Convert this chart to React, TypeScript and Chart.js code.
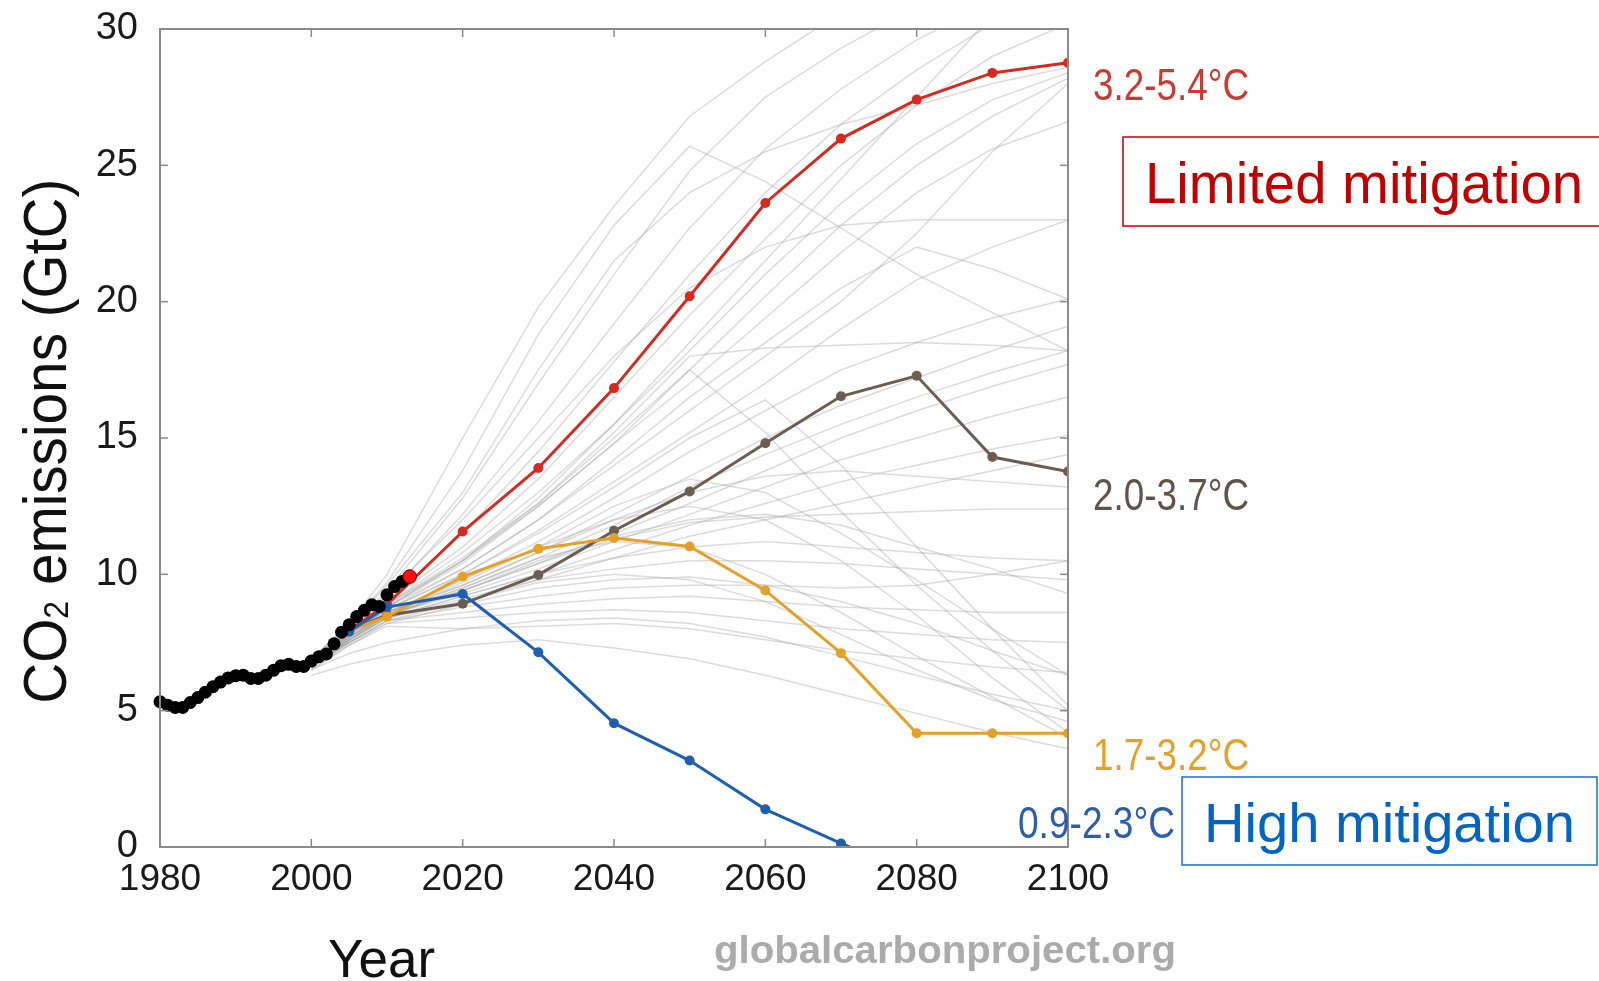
import { useEffect, useRef } from "react";
import { Chart, registerables } from "chart.js";

Chart.register(...registerables);

// ---------- DATA ----------
const histYears = [
  1980, 1981, 1982, 1983, 1984, 1985, 1986, 1987, 1988, 1989, 1990, 1991, 1992, 1993, 1994, 1995, 1996,
  1997, 1998, 1999, 2000, 2001, 2002, 2003, 2004, 2005, 2006, 2007, 2008, 2009, 2010, 2011, 2012,
];
const histValues = [
  5.33, 5.2, 5.12, 5.12, 5.3, 5.48, 5.68, 5.88, 6.05, 6.2, 6.28, 6.3, 6.18, 6.18, 6.3, 6.48, 6.65,
  6.7, 6.62, 6.62, 6.82, 6.98, 7.08, 7.45, 7.88, 8.15, 8.45, 8.68, 8.88, 8.82, 9.25, 9.55, 9.74,
];
const projYear = [2013];
const projValue = [9.92];

const rcpYears = [2005, 2010, 2020, 2030, 2040, 2050, 2060, 2070, 2080, 2090, 2100];
const rcp85 = [7.95, 8.9, 11.57, 13.9, 16.83, 20.2, 23.62, 25.98, 27.41, 28.39, 28.76];
const rcp60 = [7.95, 8.5, 8.92, 9.98, 11.6, 13.04, 14.81, 16.53, 17.28, 14.3, 13.77];
const rcp45 = [7.95, 8.45, 9.92, 10.94, 11.33, 11.02, 9.41, 7.11, 4.17, 4.17, 4.17];
const rcp26 = [7.9, 8.8, 9.28, 7.14, 4.54, 3.17, 1.38, 0.13, -1.0, -1.3, -1.5];

const otherYears = [2000, 2005, 2010, 2020, 2030, 2040, 2050, 2060, 2070, 2080, 2090, 2100];
const otherScenarios: number[][] = [
  [6.9, 8.2, 10.0, 15.0, 19.8, 23.5, 26.8, 28.8, 30.6, 32.0, 33.0, 34.0],
  [6.9, 8.1, 9.7, 13.8, 18.8, 22.8, 25.7, 24.4, 22.7, 21.0, 19.6, 18.2],
  [6.8, 8.0, 9.4, 12.8, 17.0, 21.0, 24.8, 27.5, 29.3, 30.8, 32.0, 33.0],
  [6.8, 8.0, 9.2, 12.2, 15.6, 19.2, 22.7, 25.6, 27.8, 29.6, 31.0, 32.0],
  [6.8, 7.9, 9.0, 11.5, 14.5, 17.8, 21.0, 24.0, 26.5, 28.5, 30.2, 31.5],
  [6.8, 7.9, 9.0, 11.0, 13.5, 16.5, 19.5, 22.3, 25.0, 27.2, 29.0, 30.2],
  [6.7, 7.9, 8.9, 10.8, 13.0, 15.5, 18.2, 21.0, 23.6, 25.8, 27.4, 28.4],
  [6.7, 7.8, 8.8, 10.4, 12.5, 14.8, 17.0, 19.4, 21.8, 24.0, 25.6, 26.6],
  [6.7, 7.8, 8.8, 10.2, 12.0, 14.0, 16.0, 18.0, 20.0, 22.5, 25.5, 28.0],
  [6.7, 7.8, 8.7, 10.0, 11.6, 13.4, 15.2, 17.0, 19.0, 20.8, 22.0, 23.0],
  [6.8, 7.9, 8.9, 10.5, 12.8, 15.5, 18.5, 21.5, 24.5, 27.5, 30.5, 32.5],
  [6.7, 7.8, 8.6, 9.8, 11.2, 12.8, 14.5, 16.0, 17.5, 18.5, 19.4, 20.1],
  [6.7, 7.7, 8.6, 9.6, 10.8, 12.2, 13.6, 15.0, 16.2, 17.2, 18.2, 19.1],
  [6.7, 7.7, 8.5, 9.5, 10.6, 11.8, 13.2, 14.4, 15.5, 16.5, 17.4, 18.2],
  [6.6, 7.7, 8.5, 9.4, 10.4, 11.5, 12.6, 13.8, 15.0, 16.0, 16.9, 17.7],
  [6.6, 7.6, 8.5, 9.3, 10.2, 11.2, 12.2, 13.2, 14.2, 15.0, 15.8, 16.5],
  [6.6, 7.6, 8.4, 9.2, 10.0, 10.9, 11.8, 12.6, 13.4, 14.0, 14.6, 15.1],
  [6.6, 7.6, 8.4, 9.0, 9.8, 10.6, 11.4, 12.0, 12.6, 13.2, 13.8, 14.4],
  [6.8, 7.9, 8.8, 10.5, 12.5, 14.8, 17.5, 15.2, 12.3, 9.6, 7.2, 5.0],
  [6.7, 7.8, 8.7, 10.0, 11.5, 13.2, 15.0, 16.4, 14.0, 11.0, 8.0, 5.2],
  [6.7, 7.7, 8.6, 9.7, 11.0, 12.5, 13.5, 13.0, 11.5, 9.8, 8.0, 6.3],
  [6.6, 7.7, 8.5, 9.4, 10.5, 11.4, 12.0, 12.2, 11.8, 11.0, 10.2, 9.3],
  [6.6, 7.6, 8.4, 9.1, 9.8, 10.2, 10.5, 10.5, 10.4, 10.2, 10.0, 9.8],
  [6.6, 7.5, 8.3, 8.8, 9.2, 9.5, 9.6, 9.6, 9.5, 9.6, 10.0, 10.5],
  [6.6, 7.5, 8.3, 8.6, 8.9, 9.1, 9.2, 9.0, 8.8, 8.7, 8.6, 8.6],
  [6.5, 7.4, 8.2, 8.4, 8.6, 8.7, 8.6, 8.3, 8.0, 7.8, 7.6, 7.5],
  [6.5, 7.4, 8.1, 8.0, 8.1, 8.2, 8.0, 7.6, 7.2, 6.9, 6.6, 6.4],
  [6.3, 6.7, 7.0, 7.4, 7.6, 7.3, 6.9, 6.3, 5.6, 4.9, 4.2, 3.6],
  [6.5, 7.1, 7.5, 8.0, 8.3, 8.4, 8.2, 7.7, 7.0, 6.3, 5.6, 5.0],
  [6.6, 7.5, 8.2, 8.9, 9.5, 9.8, 9.9, 9.6, 9.0, 8.2, 7.2, 6.3],
  [6.7, 7.7, 8.6, 9.8, 11.0, 12.0, 12.5, 12.0, 10.5, 8.5, 6.2, 4.2],
  [6.6, 7.6, 8.5, 9.5, 10.6, 11.2, 11.0, 10.0, 8.6, 7.0, 5.5, 4.0],
  [6.6, 7.5, 8.3, 9.0, 9.7, 10.0, 9.8, 9.0, 7.8, 6.5, 5.4, 4.6],
  [6.7, 7.7, 8.6, 9.6, 10.8, 12.0, 13.0, 13.6, 13.8, 13.6, 13.4, 13.2],
  [6.6, 7.6, 8.5, 9.4, 10.4, 11.3, 11.9, 12.1, 12.2, 12.3, 12.4, 12.4],
  [6.6, 7.6, 8.4, 9.2, 10.0, 10.6, 11.0, 11.2, 11.0, 10.8, 10.6, 10.5],
  [6.8, 7.9, 8.9, 10.6, 12.6, 15.0, 17.5, 20.2, 22.8, 25.0, 26.8, 28.2],
  [6.8, 7.9, 8.8, 10.5, 12.6, 15.2, 18.0, 18.3, 18.4, 18.5, 18.4, 18.2],
  [6.9, 8.1, 9.6, 13.0, 17.5, 21.5, 24.0, 25.5, 26.5, 27.2, 28.0, 28.6],
  [6.9, 8.0, 9.3, 12.0, 15.0, 18.0, 20.5, 22.0, 22.8, 23.0, 23.0, 23.0],
  [6.7, 7.8, 8.7, 10.2, 12.0, 14.2, 16.5, 18.5, 20.5, 22.0, 21.2, 20.1],
];

const xTickMin = 1980;
const xTickMax = 2100;
const xTickStep = 20;
const yTickMin = 0;
const yTickMax = 30;
const yTickStep = 5;

const rangeLabels = ["3.2-5.4°C", "2.0-3.7°C", "1.7-3.2°C", "0.9-2.3°C"];
const boxLabels = ["Limited mitigation", "High mitigation"];
const yTitle = ["CO", "2", " emissions (GtC)"];
const xTitle = "Year";
const sourceText = "globalcarbonproject.org";

// ---------- STYLE ----------
const FONT = "'Liberation Sans', Arial, Helvetica, sans-serif";
const C_RED = "#d42a20";
const C_BROWN = "#6b5d54";
const C_ORANGE = "#e3a12c";
const C_BLUE = "#1f5fae";

const pts = (xs: number[], ys: number[]) => xs.map((x, i) => ({ x, y: ys[i] }));

function fitText(
  ctx: CanvasRenderingContext2D,
  text: string,
  x: number,
  y: number,
  font: string,
  width: number,
  color: string
) {
  ctx.save();
  ctx.font = font;
  const w = ctx.measureText(text).width;
  ctx.translate(x, y);
  ctx.scale(width / w, 1);
  ctx.fillStyle = color;
  ctx.textAlign = "left";
  ctx.textBaseline = "alphabetic";
  ctx.fillText(text, 0, 0);
  ctx.restore();
}

const framePlugin = {
  id: "frame",
  afterDatasetsDraw(chart: any) {
    const { ctx, chartArea: a, scales } = chart;
    ctx.save();
    ctx.strokeStyle = "#8a8a8a";
    ctx.lineWidth = 1.5;
    const tl = 8;
    const line = (x1: number, y1: number, x2: number, y2: number) => {
      ctx.beginPath();
      ctx.moveTo(x1, y1);
      ctx.lineTo(x2, y2);
      ctx.stroke();
    };
    scales.x.ticks.forEach((t: any) => {
      const px = scales.x.getPixelForValue(t.value);
      line(px, a.bottom, px, a.bottom - tl);
      line(px, a.top, px, a.top + tl);
    });
    scales.y.ticks.forEach((t: any) => {
      const py = scales.y.getPixelForValue(t.value);
      line(a.left, py, a.left + tl, py);
      line(a.right, py, a.right - tl, py);
    });
    ctx.lineWidth = 2;
    ctx.strokeRect(a.left, a.top, a.right - a.left, a.bottom - a.top);
    ctx.restore();
  },
  afterDraw(chart: any) {
    const ctx: CanvasRenderingContext2D = chart.ctx;
    // range labels
    fitText(ctx, rangeLabels[0], 1093, 100, `44px ${FONT}`, 156, "#c83a32");
    fitText(ctx, rangeLabels[1], 1093, 510, `44px ${FONT}`, 156, "#5f534b");
    fitText(ctx, rangeLabels[2], 1093, 770, `44px ${FONT}`, 156, "#e3a02b");
    fitText(ctx, rangeLabels[3], 1018, 838, `44px ${FONT}`, 157, "#2a5ea8");

    // boxes
    ctx.save();
    ctx.lineWidth = 1.5;
    ctx.strokeStyle = "#c00000";
    ctx.strokeRect(1123, 137, 500, 89);
    ctx.strokeStyle = "#1a6fd1";
    ctx.strokeRect(1182, 777, 415, 88);
    ctx.restore();
    fitText(ctx, boxLabels[0], 1145, 203, `57px ${FONT}`, 438, "#c00000");
    fitText(ctx, boxLabels[1], 1204, 842, `56px ${FONT}`, 371, "#0563c1");

    // x title
    ctx.save();
    ctx.font = `53px ${FONT}`;
    ctx.fillStyle = "#111";
    ctx.textBaseline = "alphabetic";
    ctx.textAlign = "left";
    ctx.fillText(xTitle, 328, 977);
    ctx.restore();

    // y title (rotated) with subscript
    ctx.save();
    const mainFont = `62px ${FONT}`;
    const subFont = `35px ${FONT}`;
    ctx.font = mainFont;
    const w1 = ctx.measureText(yTitle[0]).width;
    const w3 = ctx.measureText(yTitle[2]).width;
    ctx.font = subFont;
    const w2 = ctx.measureText(yTitle[1]).width;
    const total = w1 + w2 + w3;
    const target = 525;
    const s = target / total;
    ctx.translate(66, 703.7);
    ctx.rotate(-Math.PI / 2);
    ctx.scale(s, 1);
    ctx.fillStyle = "#111";
    ctx.textBaseline = "alphabetic";
    ctx.textAlign = "left";
    ctx.font = mainFont;
    ctx.fillText(yTitle[0], 0, 0);
    ctx.font = subFont;
    ctx.fillText(yTitle[1], w1, 2);
    ctx.font = mainFont;
    ctx.fillText(yTitle[2], w1 + w2, 0);
    ctx.restore();

    // source
    fitText(ctx, sourceText, 714, 963, `bold 39px ${FONT}`, 462, "#ababab");
  },
};

export default function App() {
  const ref = useRef<HTMLCanvasElement>(null);

  useEffect(() => {
    if (!ref.current) return;
    Chart.defaults.font.family = FONT;

    const grayDatasets = otherScenarios.map((vals) => ({
      type: "line" as const,
      data: pts(otherYears, vals),
      borderColor: "rgba(170,170,170,0.42)",
      borderWidth: 1.5,
      pointRadius: 0,
      order: 10,
    }));

    const colored = (vals: number[], color: string, order: number) => ({
      type: "line" as const,
      data: pts(rcpYears, vals),
      borderColor: color,
      backgroundColor: color,
      borderWidth: 3,
      pointRadius: 5,
      pointBorderWidth: 0,
      pointBackgroundColor: color,
      order,
    });

    const chart = new Chart(ref.current, {
      type: "line",
      data: {
        datasets: [
          {
            type: "line",
            data: pts(projYear, projValue),
            showLine: false,
            pointRadius: 6.8,
            pointBackgroundColor: "#ff1010",
            pointBorderColor: "#5a0000",
            pointBorderWidth: 1,
            order: 1,
            clip: false,
          },
          {
            type: "line",
            data: pts(histYears, histValues),
            showLine: false,
            pointRadius: 6.5,
            pointBackgroundColor: "#000",
            pointBorderWidth: 0,
            order: 2,
            clip: false,
          },
          colored(rcp26, C_BLUE, 3),
          colored(rcp45, C_ORANGE, 4),
          colored(rcp60, C_BROWN, 5),
          colored(rcp85, C_RED, 6),
          ...grayDatasets,
        ] as any,
      },
      options: {
        animation: false,
        responsive: false,
        devicePixelRatio: 1,
        layout: { padding: { left: 0, right: 531, top: 29, bottom: 0 } },
        plugins: {
          legend: { display: false },
          tooltip: { enabled: false },
        },
        elements: { line: { tension: 0 } },
        scales: {
          x: {
            type: "linear",
            min: xTickMin,
            max: xTickMax,
            grid: { display: false, drawTicks: false },
            border: { display: false },
            ticks: {
              stepSize: xTickStep,
              padding: 11,
              color: "#1a1a1a",
              font: { size: 37, family: FONT },
              maxRotation: 0,
              callback: (v: any) => String(v),
            },
            afterFit: (scale: any) => {
              scale.height = 134;
              scale.paddingLeft = 0;
              scale.paddingRight = 0;
            },
          },
          y: {
            type: "linear",
            min: yTickMin,
            max: yTickMax,
            grid: { display: false, drawTicks: false },
            border: { display: false },
            ticks: {
              stepSize: yTickStep,
              padding: 22,
              color: "#1a1a1a",
              font: { size: 38, family: FONT },
              callback: (v: any) => String(v),
            },
            afterFit: (scale: any) => {
              scale.width = 160;
              scale.paddingTop = 0;
              scale.paddingBottom = 0;
            },
          },
        },
      },
      plugins: [framePlugin],
    });

    return () => chart.destroy();
  }, []);

  return (
    <div
      style={{
        position: "fixed",
        left: 0,
        top: 0,
        width: 1599,
        height: 981,
        background: "#fff",
      }}
    >
      <canvas ref={ref} width={1599} height={981} style={{ display: "block", width: 1599, height: 981 }} />
    </div>
  );
}
